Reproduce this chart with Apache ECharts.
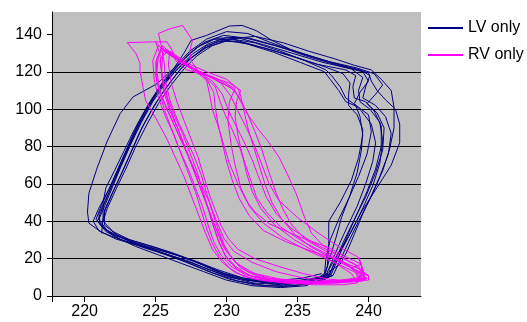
<!DOCTYPE html>
<html><head><meta charset="utf-8">
<script src="https://cdn.jsdelivr.net/npm/echarts@6/dist/echarts.min.js"></script>
<style>html,body{margin:0;padding:0;background:#fff}#c{width:527px;height:322px}</style>
</head><body><div id="c"></div>
<script>
const xTicks = [220, 225, 230, 235, 240];
const yTicks = [0, 20, 40, 60, 80, 100, 120, 140];
const seriesNames = ['LV only', 'RV only'];

// LV loops (volume, pressure)
const lvLoop1 = [[221.2,33.5],[221.3,42],[221.3,50],[221.5,58],[222.1,67],[222.8,78],[223.5,89],[224.3,100],[225.2,110],[226.2,119],[227.3,126.5],[228.6,133],[230.2,137.5],[232.0,139],[234.0,135.5],[235.8,131],[237.6,127],[239.0,123.5],[240.2,121],[240.9,116],[241.6,110],[241.8,101],[241.8,90],[241.5,79],[241.0,67],[240.3,55],[239.6,44],[239.0,33],[238.5,24],[238.0,17],[237.2,13]];
const lvLoop2 = [[237.0,11],[237.4,18],[237.9,27],[238.5,37],[239.2,48],[239.8,60],[240.3,72],[240.5,82],[240.2,92],[239.5,99],[239.0,103],[239.4,109],[240.0,115],[239.6,120],[237.8,123.5],[235.6,128.5],[233.5,134],[231.6,138],[230.0,138.5],[228.7,135],[227.6,129.5],[226.6,122],[225.7,114],[224.8,104],[224.0,93],[223.3,82],[222.6,70],[222.0,59],[221.4,48],[221.0,41],[221.6,35],[222.8,31],[224.3,27.5],[226.0,23.5],[227.6,19],[229.2,13.5],[231.0,9],[233.0,7],[235.0,7.5],[236.5,9.5],[237.0,11]];
const lvLoop3 = [[236.8,10],[237.1,16],[237.2,28],[237.2,40],[238.0,50],[238.8,62],[239.3,74],[239.6,86],[239.4,96],[239.1,102],[238.4,106],[238.0,112],[237.4,118],[237.0,121],[235.5,126],[233.8,131],[232.0,135.5],[230.4,137.5],[229.0,134],[227.9,128.5],[227.0,121.5],[226.1,113],[225.2,103],[224.4,92],[223.6,80],[222.9,68],[222.2,57],[221.6,47],[221.3,40],[222.0,34.5],[223.2,30],[224.8,26.5],[226.4,22.5],[228.0,18],[229.6,12.5],[231.4,8.5],[233.3,6.5],[235.2,7],[236.8,10]];
const lvLoop4 = [[237.3,12],[237.7,20],[238.3,30],[239.0,41],[239.8,53],[240.5,66],[241.0,78],[241.1,90],[240.6,98],[239.9,103],[240.5,108],[241.0,113],[240.4,119],[239.2,122],[237.2,125.5],[235.0,130.5],[233.0,136],[231.5,140.5],[230.0,141.5],[228.6,137.5],[227.4,131],[226.4,123],[225.5,114.5],[224.6,104],[223.8,93],[223.1,81],[222.4,69],[221.7,57],[221.0,47],[220.6,40],[221.0,35],[222.2,30.5],[223.8,27],[225.5,23],[227.2,19],[228.8,14],[230.6,9.5],[232.6,7.5],[234.8,8],[236.5,10],[237.3,12]];
const lvLoop5 = [[236.6,8.5],[237.0,13],[237.3,21],[237.7,31],[238.1,42],[238.7,54],[239.2,66],[239.5,78],[239.6,89],[239.2,97],[238.6,102],[238.6,108],[238.7,114],[238.2,119],[236.8,123],[234.8,128],[232.8,132.5],[230.9,136],[229.4,136.5],[228.3,132],[227.3,126],[226.4,118],[225.5,109],[224.7,99],[223.9,88],[223.2,76],[222.5,64],[221.9,54],[221.4,45],[221.2,37],[222.2,31.5],[223.6,26.5],[225.2,22],[226.8,17.5],[228.4,13],[230.0,8.5],[231.8,5.5],[233.8,4.5],[235.6,5.5],[236.6,8.5]];
const lvLoop6 = [[237.5,11],[238.0,19],[238.6,29],[239.3,40],[240.1,52],[240.8,64],[241.4,76],[241.6,87],[241.2,96],[240.5,102],[239.6,106],[239.8,112],[240.1,118],[239.4,121],[237.6,124.5],[235.4,129.5],[233.4,134],[231.4,138],[229.8,139.5],[228.5,136],[227.4,130],[226.5,123],[225.6,115],[224.8,106],[224.0,95],[223.3,84],[222.6,72],[221.9,60],[221.2,49],[220.8,41],[221.8,33.5],[223.2,29.5],[224.9,25.5],[226.6,21.5],[228.2,17],[229.9,12],[231.8,8.5],[233.8,7],[235.8,8],[237.0,9.5],[237.5,11]];
const lvLoop7 = [[236.9,12],[237.0,20],[237.3,30],[237.9,41],[238.6,52],[239.3,64],[239.9,76],[240.2,88],[240.0,97],[239.3,101],[238.4,104],[237.9,110],[237.3,116],[236.9,120],[235.2,125],[233.3,130.5],[231.4,135],[229.8,137],[228.6,134],[227.6,128],[226.7,121],[225.8,112],[224.9,102],[224.1,91],[223.4,79],[222.7,67],[222.0,56],[221.4,46],[221.4,38],[222.4,32],[223.8,27.5],[225.4,23],[227.0,18.5],[228.6,13.5],[230.2,9],[232.0,6],[234.0,5],[235.8,6.5],[236.9,12]];
const lvLoop8 = [[237.1,10],[237.6,17],[238.2,26],[238.9,36],[239.6,47],[240.3,59],[240.8,71],[241.0,83],[240.8,93],[240.1,100],[239.4,104],[239.3,110],[239.6,117],[238.8,121.5],[236.8,125],[234.6,130],[232.6,134.5],[230.9,138],[229.3,138],[228.1,134],[227.1,127.5],[226.2,120],[225.3,111],[224.5,101],[223.7,90],[223.0,78],[222.3,66],[221.7,55],[221.2,46],[220.9,40],[221.5,34.5],[222.6,30],[224.1,26],[225.8,22],[227.4,17.5],[229.0,12.5],[230.8,8],[232.8,5.5],[234.8,5.5],[236.3,7.5],[237.1,10]];
const lvLoop9 = [[237.4,12],[237.9,21],[238.5,32],[239.2,44],[239.9,56],[240.5,68],[240.9,80],[240.9,91],[240.4,99],[239.8,104],[239.0,106],[238.9,112],[239.1,118],[238.4,121],[236.4,124],[234.3,129],[232.3,133.5],[230.6,137],[229.1,137.5],[227.9,133],[226.9,126],[226.0,118],[225.1,109],[224.3,98],[223.5,86],[222.8,74],[222.1,62],[221.5,52],[221.0,44],[221.1,38],[222.0,33],[223.4,28.5],[225.0,24.5],[226.7,20],[228.3,15.5],[230.0,10.5],[231.9,7],[233.9,6],[235.9,7],[237.0,9],[237.4,12]];
const lvLoop10 = [[237.2,14],[237.8,22],[238.6,32],[239.5,45],[240.6,58],[241.6,70],[242.2,82],[242.2,92],[241.9,100],[241.2,105],[240.6,110],[240.2,115],[240.0,119.5],[238.5,122.5],[236.5,127],[234.5,132],[233.2,136.8],[232.1,142],[231.1,144.8],[230.2,144.5],[228.6,139.5],[227.5,136.8],[227.0,130],[226.3,122],[225.1,113.6],[223.4,106.5],[222.5,97.6],[221.6,83],[220.9,69],[220.3,55],[220.2,45],[220.3,39],[221.2,34],[222.6,30],[224.3,26.5],[226.0,23],[227.7,19],[229.4,14],[231.2,9.5],[233.2,8],[235.3,9.5],[236.7,12]];

// RV loops (volume, pressure)
const rvLoop1 = [[239.6,8],[239.0,13],[237.6,18],[235.8,24],[234.0,31],[232.6,39],[231.6,48],[231.0,58],[230.6,70],[230.3,82],[230.1,94],[230.2,104],[230.6,111],[229.4,116],[228.0,120.5],[226.8,125],[225.8,130],[225.2,134],[224.8,126],[224.9,116],[225.2,106],[225.7,96],[226.3,86],[226.8,76],[227.3,66],[227.8,56],[228.2,46],[228.6,36],[229.0,28],[229.5,21],[230.2,15],[231.2,10.5],[232.8,8],[234.8,7],[237.0,7],[238.8,7.5],[239.6,8]];
const rvLoop2 = [[239.8,9],[239.3,16],[238.0,21],[236.8,27],[236.0,33.4],[235.5,42],[234.9,54.9],[234.3,65],[233.7,74.3],[232.9,83],[232.3,88.6],[231.6,96],[231.0,104],[230.6,110],[229.2,116],[227.8,121],[226.6,126],[225.8,131],[225.5,128],[225.4,119],[225.6,109],[226.0,99],[226.6,89],[227.1,79],[227.6,69],[228.1,59],[228.6,49],[229.0,39],[229.4,30],[229.9,22],[230.6,16],[231.6,11],[233.2,8.5],[235.3,7.5],[237.6,8],[239.8,9]];
const rvLoop3 = [[239.4,11],[238.6,16],[237.2,22],[235.4,29],[233.8,37],[232.8,45],[232.1,53],[231.7,62],[231.3,71],[230.9,80],[230.4,89],[229.9,97],[229.5,105],[229.2,112],[228.4,118],[227.3,123],[226.4,128],[225.7,132],[225.3,126],[225.5,117],[225.8,107],[226.3,97],[226.9,87],[227.4,77],[227.9,67],[228.3,57],[228.7,47],[229.1,37],[229.5,28],[230.0,20],[230.8,14],[232.0,10],[233.8,7.5],[236.0,6.5],[238.0,7],[239.4,8.5],[239.4,11]];
const rvLoop4 = [[239.2,7],[238.8,12],[237.8,17],[236.4,23],[234.8,30],[233.4,38],[232.4,47],[231.8,56],[231.4,66],[231.1,76],[230.8,86],[230.6,96],[230.7,104],[231.0,110],[230.2,114],[228.6,118],[227.2,121],[226.4,126],[226.2,131],[225.8,136],[224.8,136],[223.0,135.6],[223.6,130],[223.9,124.6],[223.9,120.7],[224.1,112],[224.3,104.6],[225.1,94],[225.8,84],[226.4,74],[227.0,64],[227.5,54],[228.0,44],[228.5,34],[229.0,25],[229.7,18],[230.6,12.5],[232.0,9],[234.0,7],[236.2,6],[238.2,6],[239.2,7]];
const rvLoop5 = [[239.7,12],[239.0,17],[237.5,23],[236.0,29],[234.6,36],[233.5,44],[232.8,53],[232.3,63],[231.8,73],[231.2,83],[230.6,92],[230.1,100],[229.7,108],[229.0,115],[228.0,120],[227.5,126],[227.4,131],[227.6,136.8],[226.9,144.8],[226.0,143],[225.2,140.5],[225.4,134],[225.6,125],[225.7,115],[226.0,105],[226.5,95],[227.1,85],[227.7,75],[228.2,65],[228.6,55],[229.0,45],[229.4,36],[229.8,28],[230.3,21],[231.0,15],[232.2,10.5],[234.0,8],[236.2,7],[238.4,8],[239.7,9.5],[239.7,12]];
const rvLoop6 = [[239.3,20.7],[238.0,26],[236.5,33.5],[235.0,42],[233.7,51],[233.0,60],[232.5,70],[232.0,80],[231.4,90],[230.8,99],[230.3,107],[229.6,114],[228.4,119],[227.2,124],[226.3,129],[225.6,133],[225.2,129],[225.1,120],[225.3,110],[225.8,100],[226.4,90],[227.0,80],[227.6,70],[228.2,60],[228.8,50],[229.3,40],[229.8,31],[230.5,24],[231.8,18],[233.5,13],[235.5,9.5],[237.5,8],[239.3,9],[239.6,14],[239.3,20.7]];
const rvLoop7 = [[239.5,17],[238.4,21],[237.2,26],[235.0,32],[233.0,38.7],[232.0,45],[231.4,51],[230.8,60],[230.2,71],[229.8,81],[229.4,91],[229.0,100],[228.8,108],[228.6,115],[228.0,120],[227.0,125],[226.0,130],[225.5,134],[225.1,127],[225.0,118],[225.3,108],[225.7,98],[226.2,88],[226.7,78],[227.3,68],[227.8,58],[228.3,48],[228.7,38],[229.1,29],[229.6,22],[230.3,16],[231.3,11.5],[233.0,8.5],[235.2,7.5],[237.6,8],[239.5,10],[239.5,17]];
const rvLoop8 = [[238.8,15],[237.5,20],[236.0,26],[234.8,33],[233.9,41],[233.2,50],[232.7,60],[232.3,70],[231.9,80],[231.5,90],[231.2,100],[231.0,107],[230.8,111],[230.0,116],[228.6,120],[227.4,124],[226.6,128],[226.0,131],[225.9,124],[226.1,114],[226.5,104],[227.0,94],[227.5,84],[228.0,74],[228.4,64],[228.8,54],[229.2,46],[229.6,38],[230.1,31],[230.8,25],[232.0,20],[233.6,16],[235.4,12],[237.2,9],[238.8,8],[239.9,9.5],[238.8,15]];
const rvLoop9 = [[240.0,11],[239.2,15],[237.8,19.5],[236.0,24],[234.2,29],[232.6,35],[231.6,43],[230.9,52],[230.4,62],[230.0,72],[229.7,82],[229.4,92],[229.2,101],[229.1,109],[228.6,116],[227.4,122],[226.4,127],[225.6,131],[225.0,136],[225.3,130],[225.4,121],[225.6,111],[226.0,101],[226.5,91],[227.0,81],[227.5,71],[228.0,61],[228.5,51],[229.0,41],[229.5,32],[230.0,24],[230.8,17],[232.0,12],[233.8,9],[236.0,8],[238.2,8],[240.0,8.5],[240.0,11]];
const rvLoop10 = [[239.2,13],[238.3,18],[237.0,24],[235.6,30],[234.6,38],[234.0,46],[233.5,55],[233.0,66],[232.5,78],[232.0,88],[231.5,97],[231.0,105],[230.4,111],[229.2,116],[227.8,121],[226.7,125.5],[225.9,130],[225.4,133],[225.0,125],[225.1,115],[225.5,105],[226.1,95],[226.7,85],[227.3,75],[227.8,65],[228.3,55],[228.8,45],[229.3,35],[229.8,26],[230.5,19],[231.5,13],[233.0,9.5],[235.0,8],[237.3,7.5],[239.2,8.5],[239.2,13]];

const lvData = [].concat(lvLoop1, lvLoop2, lvLoop3, lvLoop4, lvLoop5, lvLoop6, lvLoop7, lvLoop8, lvLoop9, lvLoop10);
const rvData = [].concat(rvLoop1, rvLoop2, rvLoop3, rvLoop4, rvLoop5, rvLoop6, rvLoop7, rvLoop8, rvLoop9, rvLoop10);

const FONT = 'Liberation Sans, Arial, sans-serif';
const chart = echarts.init(document.getElementById('c'), null, {renderer: 'canvas'});
const legendBase = {
  orient: 'vertical', left: 428, icon: 'rect', itemWidth: 35, itemHeight: 2, padding: 0,
  textStyle: {fontSize: 16, fontFamily: FONT, color: '#000'}
};
chart.setOption({
  animation: false,
  grid: {left: 52, top: 12, right: 106, bottom: 26, show: true, backgroundColor: '#C0C0C0', borderWidth: 0},
  legend: [
    Object.assign({}, legendBase, {data: [seriesNames[0]], top: 20}),
    Object.assign({}, legendBase, {data: [seriesNames[1]], top: 47})
  ],
  xAxis: {
    type: 'value', min: 217.7, max: 243.7,
    axisLine: {show: true, onZero: false, lineStyle: {color: '#000', width: 1}},
    axisTick: {show: true, length: 6, lineStyle: {color: '#000'}, customValues: [217.7].concat(xTicks)},
    axisLabel: {customValues: xTicks, color: '#000', fontFamily: FONT, fontSize: 16, margin: 8},
    splitLine: {show: false}
  },
  yAxis: {
    type: 'value', min: 0, max: 152, interval: 20,
    axisLine: {show: true, onZero: false, lineStyle: {color: '#000', width: 1}},
    axisTick: {show: true, length: 5, lineStyle: {color: '#000'}, customValues: yTicks},
    axisLabel: {customValues: yTicks, color: '#000', fontFamily: FONT, fontSize: 16, margin: 10},
    splitLine: {show: true, showMaxLine: false, lineStyle: {color: '#000', width: 1}}
  },
  series: [
    {name: seriesNames[0], type: 'line', data: lvData, showSymbol: false, symbol: 'none',
     lineStyle: {color: '#000080', width: 1}, itemStyle: {color: '#000080'}},
    {name: seriesNames[1], type: 'line', data: rvData, showSymbol: false, symbol: 'none',
     lineStyle: {color: '#FF00FF', width: 1}, itemStyle: {color: '#FF00FF'}}
  ]
});
</script>
</body></html>
